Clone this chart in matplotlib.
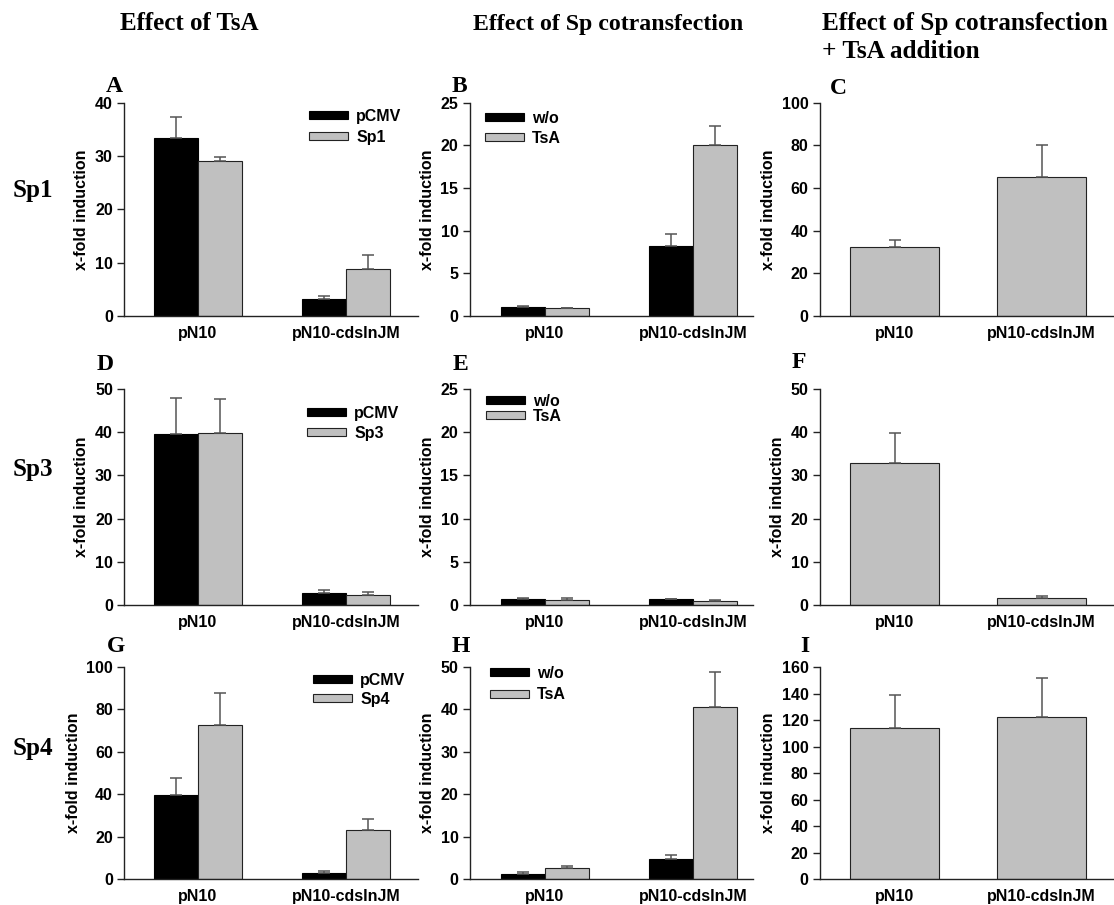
import matplotlib
matplotlib.use("Agg")
import matplotlib.pyplot as plt
import numpy as np

# ---------------- data ----------------
categories = ['pN10', 'pN10-cdsInJM']

A_black = [33.4, 3.2];  A_black_err = [4.0, 0.6]
A_gray = [29.1, 8.9];   A_gray_err = [0.7, 2.6]
B_black = [1.1, 8.2];   B_black_err = [0.1, 1.4]
B_gray = [0.9, 20.0];   B_gray_err = [0.08, 2.3]
C_vals = [32.5, 65.3];  C_err = [3.3, 14.8]
D_black = [39.5, 2.85]; D_black_err = [8.4, 0.6]
D_gray = [39.7, 2.2];   D_gray_err = [8.0, 0.7]
E_black = [0.66, 0.66]; E_black_err = [0.12, 0.08]
E_gray = [0.62, 0.5];   E_gray_err = [0.24, 0.12]
F_vals = [32.8, 1.7];   F_err = [6.9, 0.3]
G_black = [39.6, 3.0];  G_black_err = [8.2, 0.8]
G_gray = [72.6, 22.9];  G_gray_err = [15.2, 5.4]
H_black = [1.24, 4.8];  H_black_err = [0.3, 0.95]
H_gray = [2.56, 40.45]; H_gray_err = [0.47, 8.35]
I_vals = [113.9, 122.6]; I_err = [25.0, 29.4]

legend_sp1 = ['pCMV', 'Sp1']
legend_sp3 = ['pCMV', 'Sp3']
legend_sp4 = ['pCMV', 'Sp4']
legend_tsa = ['w/o', 'TsA']

headers = ['Effect of TsA', 'Effect of Sp cotransfection',
           'Effect of Sp cotransfection', '+ TsA addition']
row_labels = ['Sp1', 'Sp3', 'Sp4']
letters = ['A', 'B', 'C', 'D', 'E', 'F', 'G', 'H', 'I']

# ---------------- style ----------------
W, H = 1114, 905
fig = plt.figure(figsize=(W / 100, H / 100), dpi=100)
SANS = 'Liberation Sans'
SERIF = 'Liberation Serif'
BLACK = '#000000'
GRAY = '#c0c0c0'
EDGE = '#222222'
ERRC = '#555555'
FS = 11.5

def fx(px):
    return px / W

def fy(py):
    return 1 - py / H

col_geom = [  # left px, right px, center0 px, unit px
    (124, 418, 198, 148),
    (469.5, 753, 545, 148),
    (819.5, 1113, 894.5, 147),
]
row_geom = [(102.7, 316), (389, 605), (667, 879)]

def make_ax(r, c):
    l, rr, c0, u = col_geom[c]
    t, b = row_geom[r]
    ax = fig.add_axes([fx(l), fy(b), fx(rr - l), (b - t) / H])
    ax.set_xlim((l - c0) / u, (rr - c0) / u)
    for s in ['top', 'right']:
        ax.spines[s].set_visible(False)
    for s in ['left', 'bottom']:
        ax.spines[s].set_color(EDGE)
        ax.spines[s].set_linewidth(1.0)
    ax.tick_params(axis='x', length=0, pad=7)
    ax.tick_params(axis='y', direction='out', length=5, width=1, color=EDGE, pad=3)
    ax.set_xticks(range(len(categories)))
    ax.set_xticklabels(categories, fontfamily=SANS, fontweight='bold', fontsize=FS)
    ax.set_ylabel('x-fold induction', fontfamily=SANS, fontweight='bold',
                  fontsize=FS, labelpad=4)
    return ax

def set_y(ax, top, step):
    ax.set_ylim(0, top)
    ticks = np.arange(0, top + step / 2, step)
    ax.set_yticks(ticks)
    ax.set_yticklabels([f'{int(t)}' for t in ticks], fontfamily=SANS,
                       fontweight='bold', fontsize=FS)

def err_kw():
    return dict(ecolor=ERRC, elinewidth=1.1, capsize=4.0, capthick=1.1)

def pair(ax, blk, blk_e, gry, gry_e, labels):
    x = np.arange(len(categories))
    w = 0.30
    b1 = ax.bar(x - w / 2, blk, w, color=BLACK, edgecolor=BLACK, linewidth=0.8,
                yerr=[np.zeros(len(blk)), blk_e], error_kw=err_kw(),
                label=labels[0], zorder=2)
    b2 = ax.bar(x + w / 2, gry, w, color=GRAY, edgecolor=EDGE, linewidth=0.8,
                yerr=[np.zeros(len(gry)), gry_e], error_kw=err_kw(),
                label=labels[1], zorder=2)
    return b1, b2

def single(ax, vals, errs):
    x = np.arange(len(categories))
    ax.bar(x, vals, 0.6, color=GRAY, edgecolor=EDGE, linewidth=0.8,
           yerr=[np.zeros(len(vals)), errs], error_kw=err_kw(), zorder=2)

def legend_at(ax, handles, labels, x_px, ytop_px, spacing):
    leg = ax.legend(handles, labels, loc='upper left',
                    bbox_to_anchor=(fx(x_px), fy(ytop_px)),
                    bbox_transform=fig.transFigure, frameon=False,
                    borderpad=0, borderaxespad=0, handlelength=2.45,
                    handleheight=0.42, handletextpad=0.5,
                    labelspacing=spacing,
                    prop=dict(family=SANS, weight='bold', size=FS))
    return leg

# Row 1
axA = make_ax(0, 0); set_y(axA, 40, 10)
h = pair(axA, A_black, A_black_err, A_gray, A_gray_err, legend_sp1)
legend_at(axA, h, legend_sp1, 309, 109, 0.35)

axB = make_ax(0, 1); set_y(axB, 25, 5)
h = pair(axB, B_black, B_black_err, B_gray, B_gray_err, legend_tsa)
legend_at(axB, h, legend_tsa, 485, 111, 0.3)

axC = make_ax(0, 2); set_y(axC, 100, 20)
single(axC, C_vals, C_err)

# Row 2
axD = make_ax(1, 0); set_y(axD, 50, 10)
h = pair(axD, D_black, D_black_err, D_gray, D_gray_err, legend_sp3)
legend_at(axD, h, legend_sp3, 307, 406, 0.3)

axE = make_ax(1, 1); set_y(axE, 25, 5)
h = pair(axE, E_black, E_black_err, E_gray, E_gray_err, legend_tsa)
legend_at(axE, h, legend_tsa, 486, 394, 0.0)

axF = make_ax(1, 2); set_y(axF, 50, 10)
single(axF, F_vals, F_err)

# Row 3
axG = make_ax(2, 0); set_y(axG, 100, 20)
h = pair(axG, G_black, G_black_err, G_gray, G_gray_err, legend_sp4)
legend_at(axG, h, legend_sp4, 313, 673, 0.25)

axH = make_ax(2, 1); set_y(axH, 50, 10)
h = pair(axH, H_black, H_black_err, H_gray, H_gray_err, legend_tsa)
legend_at(axH, h, legend_tsa, 490, 666, 0.4)

axI = make_ax(2, 2); set_y(axI, 160, 20)
single(axI, I_vals, I_err)

# ---------------- annotation text ----------------
hdr_kw = dict(fontfamily=SERIF, fontweight='bold', ha='left', va='baseline')
fig.text(fx(120), fy(30), headers[0], fontsize=18, **hdr_kw)
fig.text(fx(473), fy(30), headers[1], fontsize=17.2, **hdr_kw)
fig.text(fx(822), fy(30), headers[2], fontsize=18.2, **hdr_kw)
fig.text(fx(822), fy(58), headers[3], fontsize=18.2, **hdr_kw)

let_kw = dict(fontfamily=SERIF, fontweight='bold', fontsize=17,
              ha='left', va='baseline')
letter_pos = [(106, 92), (452, 92), (830, 94),
              (97, 370), (453, 370), (792, 368),
              (107, 652), (452, 652), (800, 652)]
for lt, (px, py) in zip(letters, letter_pos):
    fig.text(fx(px), fy(py), lt, **let_kw)

row_kw = dict(fontfamily=SERIF, fontweight='bold', fontsize=18,
              ha='left', va='baseline')
for lab, py in zip(row_labels, [197, 476, 755]):
    fig.text(fx(13), fy(py), lab, **row_kw)

fig.savefig('out.png', dpi=100)
